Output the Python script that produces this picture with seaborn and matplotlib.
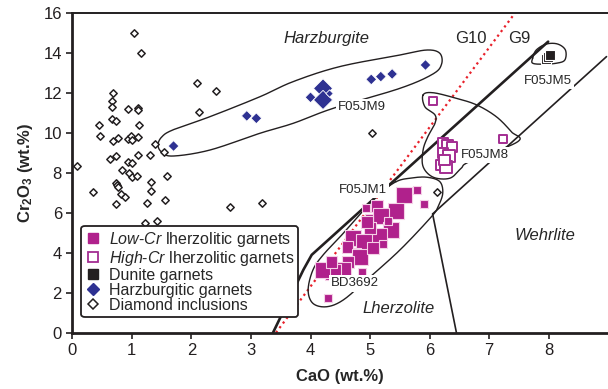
import numpy as np
import pandas as pd
import matplotlib
matplotlib.use("Agg")
import matplotlib.pyplot as plt
from matplotlib.lines import Line2D
import seaborn as sns

# ---------------- data ----------------
# Diamond inclusions (open diamonds)
di_cao = [1.03, 1.15, 2.09, 2.41, 0.68, 0.66, 0.66, 0.94, 1.11, 1.10, 2.13, 0.44, 0.66, 0.73,
          1.12, 0.46, 0.69, 0.77, 0.94, 0.99, 1.00, 1.11, 1.39, 1.54, 1.30, 1.11, 0.73, 0.63,
          0.93, 1.00, 0.08, 0.83, 0.96, 1.00, 1.08, 1.59, 0.74, 0.75, 0.76, 1.32, 0.34, 0.82,
          0.88, 1.32, 1.56, 1.25, 0.74, 2.64, 3.19, 1.22, 1.43, 5.04, 6.12]
di_cr = [15.0, 14.03, 12.51, 12.11, 11.99, 11.60, 11.30, 11.19, 11.24, 11.15, 11.04, 10.42, 10.73, 10.62,
         10.42, 9.87, 9.60, 9.74, 9.70, 9.84, 9.65, 9.82, 9.45, 9.04, 8.90, 8.90, 8.85, 8.69,
         8.54, 8.49, 8.35, 8.14, 7.99, 7.82, 7.84, 7.84, 7.50, 7.40, 7.30, 7.57, 7.06, 6.95,
         6.78, 7.11, 6.66, 6.51, 6.43, 6.31, 6.51, 5.48, 5.61, 10.02, 7.06]

# Harzburgitic garnets (blue diamonds)
hz_cao = [1.70, 2.93, 3.09, 4.00, 4.21, 4.21, 4.32, 5.93, 5.02, 5.18, 5.37]
hz_cr = [9.35, 10.86, 10.74, 11.79, 12.24, 11.66, 11.98, 13.41, 12.69, 12.83, 12.96]
hz_size = ["M", "M", "M", "M", "L", "L", "S", "M", "M", "M", "M"]

# Low-Cr lherzolitic garnets (filled squares)
lo_cao = [5.57, 5.79, 5.91, 5.44, 5.12, 5.18, 4.98, 4.93, 5.35, 5.15, 5.22, 5.00, 4.72, 4.90,
          4.62, 4.78, 4.83, 4.63, 4.55, 4.38, 4.20, 4.86, 4.35, 4.29, 4.45, 4.95, 5.30, 5.05]
lo_cr = [6.90, 7.15, 6.45, 6.10, 6.35, 5.85, 5.75, 6.25, 5.15, 4.85, 4.45, 5.25, 4.75, 4.55,
         4.30, 4.05, 3.80, 3.55, 3.15, 3.05, 3.12, 3.05, 3.55, 1.75, 2.55, 5.55, 5.60, 4.25]
lo_size = ["L", "S", "S", "L", "M", "L", "S", "S", "L", "L", "S", "M", "L", "L",
           "M", "S", "L", "M", "L", "L", "L", "S", "M", "S", "S", "M", "S", "M"]

# High-Cr lherzolitic garnets (open squares)
hi_cao = [6.05, 7.23, 6.22, 6.30, 6.38, 6.22, 6.32, 6.20, 6.27, 6.25]
hi_cr = [11.62, 9.69, 9.49, 9.38, 9.30, 9.00, 8.85, 8.40, 8.30, 8.65]
hi_size = ["S", "S", "M", "M", "M", "M", "L", "M", "L", "M"]

# Dunite garnets (black squares)
du_cao = [7.96, 7.99, 8.02]
du_cr = [13.72, 13.82, 13.93]

# boundary lines
g10_cao = [3.42, 7.43]
g10_cr = [0.0, 16.0]
g9_cao = [3.37, 3.88, 4.02, 7.99]
g9_cr = [0.0, 3.15, 3.90, 14.58]
band_cao = [6.05, 8.97]
band_cr = [5.95, 13.83]
wehr_cao = [6.05, 6.45]
wehr_cr = [5.95, 0.0]

# field outlines
harz_loop_x = [1.44, 1.50, 1.69, 2.31, 3.15, 3.71, 4.38, 5.50, 6.05, 6.20, 6.17, 5.95, 5.50, 4.49, 3.71, 3.15, 2.31, 1.69, 1.50]
harz_loop_y = [9.40, 9.05, 8.85, 9.15, 9.99, 10.49, 11.24, 12.24, 12.95, 13.45, 14.00, 14.16, 13.91, 13.33, 12.58, 11.82, 10.82, 10.16, 9.80]
low_loop_x = [5.44, 5.67, 5.95, 6.17, 6.22, 6.14, 6.03, 5.50, 4.94, 4.55, 4.27, 4.04, 3.96, 4.04, 4.21, 4.55, 4.94, 5.16]
low_loop_y = [7.57, 7.74, 7.79, 7.57, 6.98, 6.31, 5.81, 4.14, 2.64, 1.64, 1.30, 1.47, 2.14, 3.14, 3.89, 4.98, 6.31, 6.98]
high_loop_x = [5.89, 6.06, 6.45, 6.79, 7.12, 7.37, 7.48, 6.67, 6.53, 6.34, 6.06, 5.89, 5.89, 5.97, 6.09, 6.09, 5.92]
high_loop_y = [11.91, 12.02, 11.74, 11.41, 10.82, 10.07, 9.57, 8.57, 8.24, 7.74, 7.79, 8.32, 9.15, 9.82, 10.49, 10.91, 11.32]
dun_loop_x = [7.73, 7.79, 7.96, 8.15, 8.28, 8.27, 8.13, 7.90, 7.73]
dun_loop_y = [13.75, 14.16, 14.46, 14.46, 14.16, 13.66, 13.50, 13.45, 13.50]

tick_x = [0, 1, 2, 3, 4, 5, 6, 7, 8]
tick_y = [0, 2, 4, 6, 8, 10, 12, 14, 16]

# ---------------- style ----------------
sns.set_style("ticks")
plt.rcParams["font.family"] = ["Liberation Sans", "DejaVu Sans"]
plt.rcParams["mathtext.fontset"] = "custom"
plt.rcParams["mathtext.rm"] = "Liberation Sans"
plt.rcParams["mathtext.it"] = "Liberation Sans:italic"
plt.rcParams["mathtext.bf"] = "Liberation Sans:bold"

MAG = "#B0218C"
MAG_OPEN = "#A32D92"
BLUE = "#2E3192"
BLK = "#231F20"

fig = plt.figure(figsize=(6.08, 3.89), dpi=100)
ax = fig.add_axes([72.3 / 608, 56.3 / 389, 536.0 / 608, 319.4 / 389])


def closed_curve(xs, ys, n=24):
    P = np.column_stack([xs, ys])
    N = len(P)
    out = []
    t = np.linspace(0, 1, n, endpoint=False)[:, None]
    for i in range(N):
        p0, p1, p2, p3 = P[i - 1], P[i], P[(i + 1) % N], P[(i + 2) % N]
        seg = 0.5 * ((2 * p1) + (-p0 + p2) * t + (2 * p0 - 5 * p1 + 4 * p2 - p3) * t ** 2
                     + (-p0 + 3 * p1 - 3 * p2 + p3) * t ** 3)
        out.append(seg)
    out = np.vstack(out + [out[0][:1]])
    return out[:, 0], out[:, 1]


# lines
ax.plot(g10_cao, g10_cr, color="#E8202A", lw=1.6, ls=(0, (1, 1.6)), zorder=1)
ax.plot(g9_cao, g9_cr, color=BLK, lw=1.9, zorder=1, solid_joinstyle="round")
ax.plot(band_cao, band_cr, color=BLK, lw=1.2, zorder=1)
ax.plot(wehr_cao, wehr_cr, color=BLK, lw=1.2, zorder=1)

for lx, ly in [(harz_loop_x, harz_loop_y), (low_loop_x, low_loop_y),
               (high_loop_x, high_loop_y), (dun_loop_x, dun_loop_y)]:
    cx, cy = closed_curve(lx, ly)
    ax.plot(cx, cy, color=BLK, lw=1.0, zorder=2)

# points
df_di = pd.DataFrame({"CaO": di_cao, "Cr2O3": di_cr})
sns.scatterplot(data=df_di, x="CaO", y="Cr2O3", marker="D", s=14, facecolor="white",
                edgecolor=BLK, linewidth=1.1, ax=ax, zorder=3, legend=False)

df_hz = pd.DataFrame({"CaO": hz_cao, "Cr2O3": hz_cr, "sz": hz_size})
sns.scatterplot(data=df_hz, x="CaO", y="Cr2O3", size="sz", sizes={"S": 14, "M": 30, "L": 95},
                marker="D", color=BLUE, edgecolor="white", linewidth=0.6, ax=ax, zorder=4, legend=False)

df_lo = pd.DataFrame({"CaO": lo_cao, "Cr2O3": lo_cr, "sz": lo_size})
sns.scatterplot(data=df_lo, x="CaO", y="Cr2O3", size="sz", sizes={"S": 32, "M": 70, "L": 130},
                marker="s", color=MAG, edgecolor="#F4D0E6", linewidth=0.8, ax=ax, zorder=4, legend=False)

df_hi = pd.DataFrame({"CaO": hi_cao, "Cr2O3": hi_cr, "sz": hi_size})
sns.scatterplot(data=df_hi, x="CaO", y="Cr2O3", size="sz", sizes={"S": 32, "M": 55, "L": 70},
                marker="s", facecolor="white", edgecolor=MAG_OPEN, linewidth=1.4, ax=ax, zorder=4, legend=False)

df_du = pd.DataFrame({"CaO": du_cao, "Cr2O3": du_cr})
sns.scatterplot(data=df_du, x="CaO", y="Cr2O3", marker="s", s=55, color=BLK,
                edgecolor="white", linewidth=0.8, ax=ax, zorder=4, legend=False)

# text labels
box = dict(facecolor="white", edgecolor="none", pad=1.5)
ax.text(4.27, 14.76, "Harzburgite", style="italic", fontsize=12, ha="center", va="center", zorder=6)
ax.text(6.69, 14.75, "G10", fontsize=12, ha="center", va="center", zorder=6)
ax.text(7.50, 14.75, "G9", fontsize=12, ha="center", va="center", zorder=6)
ax.text(7.98, 12.6, "F05JM5", fontsize=9.5, ha="center", va="center", zorder=6, bbox=box)
ax.text(4.86, 11.32, "F05JM9", fontsize=9.5, ha="center", va="center", zorder=6, bbox=box)
ax.text(6.92, 8.90, "F05JM8", fontsize=9.5, ha="center", va="center", zorder=6, bbox=box)
ax.text(4.88, 7.15, "F05JM1", fontsize=9.5, ha="center", va="center", zorder=6, bbox=box)
ax.text(4.75, 2.47, "BD3692", fontsize=9.5, ha="center", va="center", zorder=6, bbox=box)
ax.text(5.48, 1.19, "Lherzolite", style="italic", fontsize=12, ha="center", va="center", zorder=6)
ax.text(7.93, 4.85, "Wehrlite", style="italic", fontsize=12, ha="center", va="center", zorder=6)

# legend
handles = [
    Line2D([], [], ls="none", marker="s", ms=7, mfc=MAG, mec=MAG),
    Line2D([], [], ls="none", marker="s", ms=7, mfc="white", mec=MAG_OPEN, mew=1.3),
    Line2D([], [], ls="none", marker="s", ms=7, mfc=BLK, mec=BLK),
    Line2D([], [], ls="none", marker="D", ms=6, mfc=BLUE, mec=BLUE),
    Line2D([], [], ls="none", marker="D", ms=5.5, mfc="white", mec=BLK, mew=1.1),
]
labels = [r"$\mathit{Low}$-$\mathit{Cr}$ lherzolitic garnets",
          r"$\mathit{High}$-$\mathit{Cr}$ lherzolitic garnets",
          "Dunite garnets", "Harzburgitic garnets", "Diamond inclusions"]
leg = ax.legend(handles, labels, loc="lower left", bbox_to_anchor=(0.017, 0.05),
                fontsize=11.5, frameon=True, fancybox=True, framealpha=1, edgecolor=BLK,
                handlelength=1.0, handletextpad=0.45, labelspacing=0.0, borderpad=0.25,
                borderaxespad=0)
leg.get_frame().set_linewidth(1.3)
leg.set_zorder(8)

# axes
ax.set_xlim(0, 9)
ax.set_ylim(0, 16)
ax.set_xticks(tick_x)
ax.set_yticks(tick_y)
ax.tick_params(direction="out", length=4, width=1.2, labelsize=12, colors=BLK)
for side in ["left", "bottom"]:
    ax.spines[side].set_linewidth(2.0)
    ax.spines[side].set_color(BLK)
ax.spines["top"].set_visible(True)
ax.spines["top"].set_linewidth(1.4)
ax.spines["top"].set_color(BLK)
ax.spines["right"].set_visible(False)
ax.set_xlabel("CaO (wt.%)", fontsize=12, fontweight="bold", labelpad=8)
ax.set_ylabel(r"$\mathbf{Cr_2O_3}$ (wt.%)", fontsize=12, fontweight="bold", labelpad=6)

fig.savefig("out.png", dpi=100)
